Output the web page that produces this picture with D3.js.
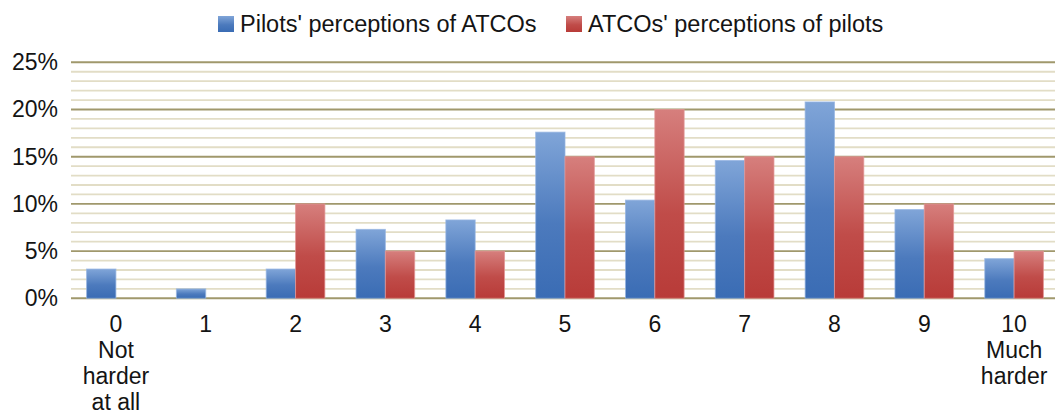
<!DOCTYPE html>
<html>
<head>
<meta charset="utf-8">
<script src="https://cdn.jsdelivr.net/npm/d3@7"></script>
<style>
  html, body { margin: 0; padding: 0; background: #fff; }
  svg { display: block; }
  text { font-family: "Liberation Sans", Arial, sans-serif; fill: #141414; }
</style>
</head>
<body>
<svg id="chart" width="1055" height="414"></svg>
<script>
// Rating scale 0–10 with verbal anchors at both ends
const categories = ["0", "1", "2", "3", "4", "5", "6", "7", "8", "9", "10"];
const categoryNotes = {
  "0": ["Not", "harder", "at all"],
  "10": ["Much", "harder"]
};
const seriesNames = ["Pilots' perceptions of ATCOs", "ATCOs' perceptions of pilots"];
const pilotsOfAtcos = [3.1, 1.0, 3.1, 7.3, 8.3, 17.6, 10.4, 14.6, 20.8, 9.4, 4.2];
const atcosOfPilots = [0, 0, 10, 5, 5, 15, 20, 15, 15, 10, 5];
const yTicks = [0, 5, 10, 15, 20, 25];

const W = 1055, H = 414;
const plot = { left: 71, right: 1059, top: 62.3, bottom: 298.3 };

const svg = d3.select("#chart");

// Gradients for the two series
const defs = svg.append("defs");
const palettes = [
  { id: "gBlue", top: "#80a5d8", bottom: "#3a6cb4" },
  { id: "gRed", top: "#d67f7d", bottom: "#b83b38" }
];
palettes.forEach(p => {
  const g = defs.append("linearGradient").attr("id", p.id)
    .attr("x1", 0).attr("y1", 0).attr("x2", 0).attr("y2", 1);
  g.append("stop").attr("offset", "0%").attr("stop-color", p.top);
  g.append("stop").attr("offset", "55%").attr("stop-color", d3.interpolateRgb(p.top, p.bottom)(0.75));
  g.append("stop").attr("offset", "100%").attr("stop-color", p.bottom);
});

const x = d3.scaleBand()
  .domain(categories)
  .range([plot.left, plot.right])
  .paddingInner(0.347)
  .paddingOuter(0.1735);

const xInner = d3.scaleBand()
  .domain([0, 1])
  .range([0, x.bandwidth()]);

const y = d3.scaleLinear()
  .domain([0, 25])
  .range([plot.bottom, plot.top]);

// Gridlines: minor every 1%, major every 5%
const minor = d3.range(1, 25).filter(v => v % 5 !== 0);
svg.append("g").selectAll("line").data(minor).join("line")
  .attr("x1", plot.left).attr("x2", W)
  .attr("y1", d => y(d)).attr("y2", d => y(d))
  .attr("stroke", "#e2ddc6").attr("stroke-width", 1.8);

svg.append("g").selectAll("line").data(yTicks).join("line")
  .attr("x1", plot.left).attr("x2", W)
  .attr("y1", d => y(d)).attr("y2", d => y(d))
  .attr("stroke", "#a0986c").attr("stroke-width", 1.9);

// Y axis labels
const yAxis = d3.axisLeft(y).tickValues(yTicks).tickFormat(d => d + "%").tickSize(0).tickPadding(13);
svg.append("g")
  .attr("transform", `translate(${plot.left},0)`)
  .call(yAxis)
  .call(g => g.select(".domain").remove())
  .call(g => g.selectAll("text")
    .style("font-family", "'Liberation Sans', Arial, sans-serif")
    .style("font-size", "23px")
    .attr("fill", "#141414"));

// Bars
const series = [pilotsOfAtcos, atcosOfPilots];
const fills = ["url(#gBlue)", "url(#gRed)"];
const edges = ["rgba(150,180,225,0.75)", "rgba(225,150,150,0.75)"];
series.forEach((vals, si) => {
  svg.append("g").selectAll("rect")
    .data(vals.map((v, i) => ({ cat: categories[i], v })).filter(d => d.v > 0))
    .join("rect")
    .attr("x", d => x(d.cat) + xInner(si))
    .attr("width", xInner.bandwidth())
    .attr("y", d => y(d.v))
    .attr("height", d => y(0) - y(d.v))
    .attr("fill", fills[si])
    .attr("stroke", edges[si])
    .attr("stroke-width", 1);
});

// X axis labels
const xAxis = d3.axisBottom(x).tickSize(0).tickPadding(0);
const xg = svg.append("g")
  .attr("transform", `translate(0,${plot.bottom})`)
  .call(xAxis)
  .call(g => g.select(".domain").remove());
xg.selectAll(".tick text").remove();
xg.selectAll(".tick").each(function (d) {
  const t = d3.select(this).append("text")
    .attr("text-anchor", "middle")
    .style("font-size", "23px")
    .attr("fill", "#141414");
  const lines = [d].concat(categoryNotes[d] || []);
  lines.forEach((ln, i) => {
    t.append("tspan").attr("x", 0).attr("y", 34 + i * 26).text(ln);
  });
});

// Legend
const legendItems = [
  { name: seriesNames[0], fill: "url(#gBlue)", x: 218 },
  { name: seriesNames[1], fill: "url(#gRed)", x: 566 }
];
const lg = svg.append("g");
legendItems.forEach(it => {
  lg.append("rect").attr("x", it.x).attr("y", 16).attr("width", 16).attr("height", 16)
    .attr("fill", it.fill);
  lg.append("text").attr("x", it.x + 22).attr("y", 31.5)
    .style("font-size", "23.5px").attr("fill", "#141414").text(it.name);
});
</script>
</body>
</html>
